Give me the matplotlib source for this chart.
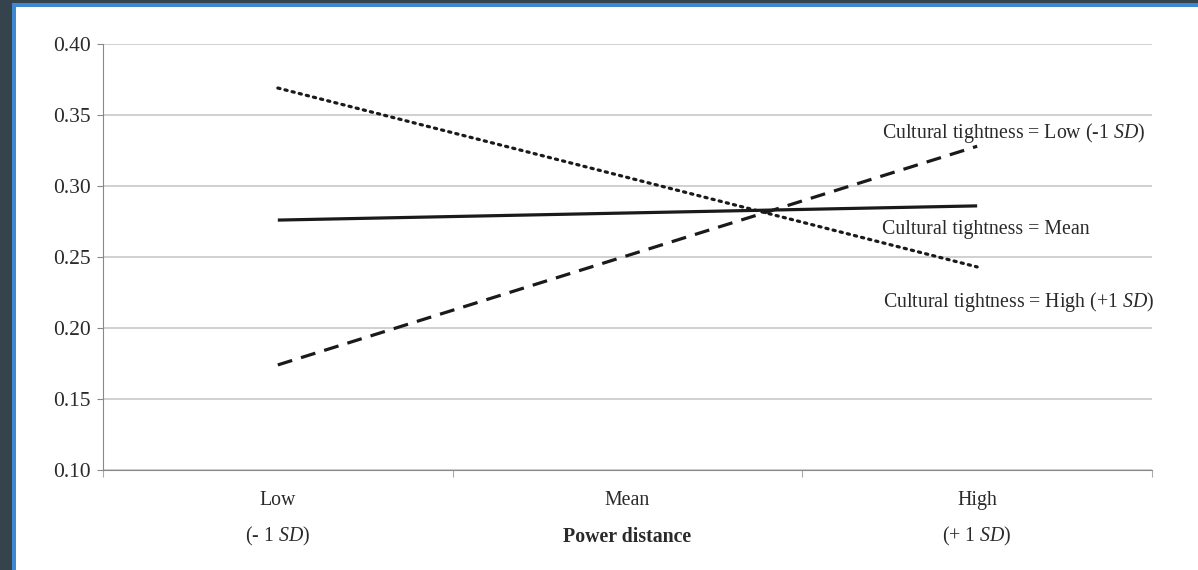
import matplotlib
matplotlib.use('Agg')
import matplotlib.pyplot as plt
from matplotlib.patches import Rectangle

# values (power distance low / high)
x_pos = [0.5, 2.5]
tight_low = [0.174, 0.328]   # dashed
tight_mean = [0.276, 0.286]  # solid
tight_high = [0.369, 0.243]  # dotted
y_ticks = [0.10, 0.15, 0.20, 0.25, 0.30, 0.35, 0.40]
cat_labels = ['Low', 'Mean', 'High']
cat_sub = ['(- 1 $\\it{SD}$)', '', '(+ 1 $\\it{SD}$)']

plt.rcParams['font.family'] = ['Liberation Serif', 'DejaVu Serif']
plt.rcParams['mathtext.fontset'] = 'custom'
plt.rcParams['mathtext.it'] = 'Liberation Serif:italic'
plt.rcParams['mathtext.rm'] = 'Liberation Serif'

W, H = 1198, 570
FS = 14.3
TXT = '#2a2a2a'
fig = plt.figure(figsize=(W / 100, H / 100), dpi=100)
fig.patch.set_facecolor('#34434c')
fig.patches.append(Rectangle((12 / W, 0), 1, 1 - 3 / H, transform=fig.transFigure,
                             facecolor='#3f87d0', edgecolor='none', zorder=-3))
fig.patches.append(Rectangle((16 / W, 0), 1, 1 - 7 / H, transform=fig.transFigure,
                             facecolor='white', edgecolor='none', zorder=-2))

ax = fig.add_axes([103 / W, 1 - 470 / H, (1152 - 103) / W, (470 - 44) / H])
ax.set_facecolor('none')

ax.plot(x_pos, tight_mean, color='#1a1a1a', lw=2.3, solid_capstyle='butt')
ax.plot(x_pos, tight_low, color='#1a1a1a', lw=2.3, dashes=(4.7, 2.9))
ax.plot(x_pos, tight_high, color='#1a1a1a', lw=2.3, linestyle=(0, (0.7, 1.6)),
        dash_capstyle='round')

ax.set_xlim(0, 3)
ax.set_ylim(0.10, 0.40)
ax.set_yticks(y_ticks)
ax.set_yticklabels(['%.2f' % v for v in y_ticks])
ax.set_xticks([0, 1, 2, 3])
ax.set_xticklabels([])
ax.grid(axis='y', color='#c8c8c8', lw=1.2)
ax.set_axisbelow(True)
for s in ['top', 'right']:
    ax.spines[s].set_visible(False)
ax.spines['left'].set_color('#888888')
ax.spines['bottom'].set_color('#888888')
ax.tick_params(axis='y', length=4.5, color='#888888', labelsize=15.5, pad=4.5, labelcolor=TXT)
ax.tick_params(axis='x', length=5, color='#aaaaaa')

for i, (c, s) in enumerate(zip(cat_labels, cat_sub)):
    ax.text(i + 0.5, -0.072, c, transform=ax.get_xaxis_transform(), ha='center',
            va='center', fontsize=FS, color=TXT)
    if s:
        ax.text(i + 0.5, -0.157, s, transform=ax.get_xaxis_transform(), ha='center',
                va='center', fontsize=FS, color=TXT)
ax.text(1.5, -0.157, 'Power distance', transform=ax.get_xaxis_transform(), ha='center',
        va='center', fontsize=FS, fontweight='bold', color=TXT)

ax.text(2.228, 0.337, 'Cultural tightness = Low (-1 $\\it{SD}$)', fontsize=FS,
        color=TXT, va='center')
ax.text(2.228, 0.2697, 'Cultural tightness = Mean', fontsize=FS,
        color=TXT, va='center')
ax.text(2.231, 0.2183, 'Cultural tightness = High (+1 $\\it{SD}$)', fontsize=FS,
        color=TXT, va='center')

fig.savefig('out.png', dpi=100, facecolor=fig.get_facecolor())
